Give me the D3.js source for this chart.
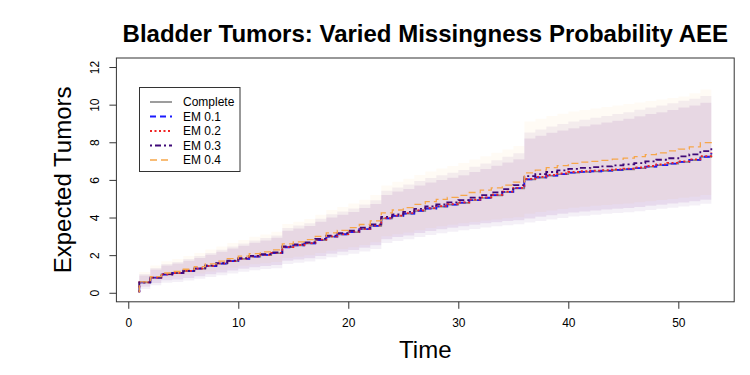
<!DOCTYPE html>
<html>
<head>
<meta charset="utf-8">
<script src="https://cdn.jsdelivr.net/npm/d3@7"></script>
<style>
  body { margin: 0; background: #fff; }
  svg { font-family: "Liberation Sans", Arial, Helvetica, sans-serif; }
</style>
</head>
<body>
<div id="chart"></div>
<script>
// ---- data ----
var times = [1,2,3,4,5,6,7,8,9,10,11,12,13,14,15,16,17,18,19,20,21,22,23,24,25,26,27,
             28,29,30,31,32,33,34,35,36,37,38,39,40,41,42,43,44,45,46,47,48,49,50,51,52,53];
var startLevel = 0.03;

var complete = [0.55,0.80,0.97,1.04,1.15,1.28,1.42,1.55,1.68,1.80,1.92,2.00,2.10,2.42,2.52,2.62,2.80,2.98,3.10,3.22,3.38,3.55,3.95,4.08,4.20,4.35,4.48,
                4.58,4.68,4.78,4.92,5.04,5.18,5.35,5.55,6.02,6.12,6.22,6.30,6.38,6.42,6.45,6.48,6.52,6.56,6.62,6.70,6.78,6.86,6.95,7.05,7.22,7.42];
var em01 = [0.55,0.80,0.97,1.05,1.15,1.28,1.42,1.55,1.68,1.80,1.92,2.01,2.11,2.42,2.52,2.63,2.80,2.98,3.11,3.23,3.38,3.56,3.95,4.09,4.21,4.36,4.48,
            4.59,4.69,4.79,4.93,5.05,5.19,5.36,5.56,6.03,6.13,6.23,6.31,6.39,6.43,6.46,6.49,6.53,6.57,6.63,6.71,6.79,6.87,6.96,7.06,7.23,7.43];
var em02 = [0.55,0.81,0.98,1.05,1.16,1.29,1.43,1.56,1.69,1.81,1.93,2.02,2.12,2.43,2.54,2.64,2.82,3.00,3.12,3.25,3.40,3.58,3.97,4.10,4.23,4.38,4.50,
            4.61,4.71,4.81,4.95,5.07,5.21,5.38,5.58,6.05,6.16,6.26,6.34,6.42,6.46,6.49,6.52,6.56,6.60,6.66,6.74,6.82,6.90,6.99,7.09,7.26,7.46];
var em03 = [0.55,0.81,0.99,1.06,1.17,1.30,1.45,1.58,1.71,1.84,1.96,2.05,2.15,2.46,2.57,2.68,2.86,3.04,3.17,3.30,3.46,3.64,4.03,4.17,4.30,4.46,4.59,
            4.70,4.81,4.92,5.06,5.19,5.34,5.51,5.72,6.20,6.31,6.42,6.51,6.59,6.64,6.68,6.72,6.77,6.82,6.89,6.98,7.07,7.15,7.25,7.36,7.53,7.72];
var em04 = [0.58,0.86,1.05,1.13,1.25,1.39,1.54,1.68,1.82,1.95,2.08,2.17,2.28,2.60,2.71,2.82,3.00,3.18,3.32,3.46,3.63,3.82,4.25,4.40,4.53,4.70,4.84,
            4.96,5.07,5.18,5.33,5.46,5.58,5.72,5.88,6.37,6.52,6.65,6.76,6.88,6.94,6.99,7.04,7.10,7.16,7.24,7.34,7.44,7.54,7.64,7.76,7.98,8.22];

// pointwise bands (EM 0.1 and EM 0.2 share one)
var lowerA = [0.32,0.52,0.66,0.70,0.78,0.88,0.98,1.08,1.18,1.28,1.36,1.42,1.48,1.70,1.77,1.84,1.96,2.08,2.18,2.27,2.39,2.53,2.85,2.96,3.05,3.18,3.29,
              3.38,3.46,3.54,3.61,3.69,3.75,3.81,3.86,3.95,4.04,4.12,4.20,4.27,4.32,4.37,4.42,4.46,4.50,4.56,4.62,4.68,4.74,4.80,4.86,4.95,5.04];
var upperA = [0.92,1.24,1.45,1.55,1.70,1.85,2.02,2.18,2.35,2.50,2.66,2.78,2.92,3.30,3.42,3.55,3.78,4.00,4.15,4.30,4.50,4.72,5.20,5.38,5.52,5.70,5.86,
              6.00,6.12,6.25,6.42,6.58,6.75,6.92,7.10,8.20,8.35,8.50,8.62,8.75,8.85,8.95,9.05,9.15,9.25,9.38,9.50,9.60,9.72,9.85,9.95,10.10,10.25];
var lower03 = [0.20,0.40,0.53,0.57,0.65,0.74,0.84,0.93,1.03,1.12,1.20,1.26,1.31,1.53,1.60,1.66,1.78,1.89,1.99,2.08,2.19,2.33,2.64,2.75,2.84,2.96,3.07,
               3.16,3.24,3.32,3.39,3.47,3.53,3.59,3.64,3.73,3.82,3.90,3.98,4.05,4.10,4.15,4.20,4.24,4.28,4.34,4.40,4.46,4.52,4.58,4.64,4.73,4.82];
var upper03 = [1.00,1.32,1.53,1.64,1.79,1.95,2.12,2.29,2.46,2.62,2.78,2.91,3.05,3.44,3.57,3.70,3.94,4.17,4.32,4.48,4.69,4.92,5.42,5.60,5.75,5.94,6.10,
               6.25,6.38,6.52,6.70,6.87,7.05,7.23,7.42,8.52,8.68,8.84,8.97,9.10,9.20,9.30,9.40,9.50,9.60,9.73,9.85,9.96,10.08,10.21,10.31,10.46,10.62];
var lower04 = [0.47,0.67,0.81,0.85,0.93,1.03,1.13,1.23,1.33,1.43,1.51,1.57,1.63,1.85,1.92,1.99,2.11,2.23,2.33,2.42,2.54,2.68,3.00,3.11,3.20,3.33,3.44,
               3.53,3.61,3.69,3.76,3.84,3.90,3.96,4.01,4.20,4.29,4.37,4.45,4.52,4.57,4.62,4.67,4.71,4.75,4.81,4.87,4.93,4.99,5.05,5.11,5.20,5.29];
var upper04 = [1.10,1.45,1.68,1.80,1.95,2.12,2.30,2.46,2.64,2.80,2.98,3.10,3.25,3.65,3.78,3.92,4.15,4.40,4.56,4.74,4.95,5.20,5.70,5.90,6.06,6.26,6.44,
               6.60,6.74,6.90,7.08,7.26,7.44,7.62,7.80,9.10,9.25,9.40,9.52,9.64,9.72,9.80,9.88,9.96,10.04,10.12,10.20,10.28,10.36,10.44,10.60,10.80,11.05];

var xTicks = [0,10,20,30,40,50];
var yTicks = [0,2,4,6,8,10,12];
var legendLabels = ["Complete","EM 0.1","EM 0.2","EM 0.3","EM 0.4"];

// ---- look ----
var series = [
  { name: "Complete", vals: complete, color: "#858585", dash: null,        width: 1.6 },
  { name: "EM 0.1",   vals: em01,     color: "#1a1aff", dash: "6,4",       width: 1.8 },
  { name: "EM 0.2",   vals: em02,     color: "#f02424", dash: "2,2.5",     width: 1.8 },
  { name: "EM 0.3",   vals: em03,     color: "#3f0a78", dash: "2,3,6,3",   width: 1.8 },
  { name: "EM 0.4",   vals: em04,     color: "#f6a64a", dash: "7,4",       width: 1.3 }
];
var bands = [
  { lo: lowerA,  hi: upperA,  color: "#0000ff", op: 0.05 },
  { lo: lowerA,  hi: upperA,  color: "#ff0000", op: 0.04 },
  { lo: lower03, hi: upper03, color: "#551a8b", op: 0.065 },
  { lo: lower04, hi: upper04, color: "#ffa500", op: 0.04 }
];

var width = 750, height = 375;
var plot = { left: 116.4, right: 734.2, top: 58, bottom: 301.8 };

var svg = d3.select("#chart").append("svg")
  .attr("width", width)
  .attr("height", height);

// R style 4% padding
var x = d3.scaleLinear().domain([-1.08, 55.08]).range([plot.left, plot.right]);
var y = d3.scaleLinear().domain([-0.48, 12.48]).range([plot.bottom, plot.top]);

///////////////////// bands /////////////////////
function bandRows(b) {
  var rows = [{ t: times[0], lo: b.lo[0], hi: b.lo[0] }];
  times.forEach(function(t, i) { rows.push({ t: t, lo: b.lo[i], hi: b.hi[i] }); });
  return rows;
}
var area = d3.area()
  .curve(d3.curveStepAfter)
  .x(function(d) { return x(d.t); })
  .y0(function(d) { return y(d.lo); })
  .y1(function(d) { return y(d.hi); });

svg.append("g").selectAll("path")
  .data(bands)
  .enter().append("path")
    .attr("d", function(b) { return area(bandRows(b)); })
    .attr("fill", function(b) { return b.color; })
    .attr("fill-opacity", function(b) { return b.op; });

///////////////////// lines /////////////////////
var line = d3.line()
  .curve(d3.curveStepAfter)
  .x(function(d) { return x(d.t); })
  .y(function(d) { return y(d.v); });

svg.append("g").selectAll("path")
  .data(series)
  .enter().append("path")
    .attr("d", function(s) {
      var rows = [{ t: times[0], v: startLevel }];
      times.forEach(function(t, i) { rows.push({ t: t, v: s.vals[i] }); });
      return line(rows);
    })
    .attr("fill", "none")
    .attr("stroke", function(s) { return s.color; })
    .attr("stroke-width", function(s) { return s.width; })
    .attr("stroke-dasharray", function(s) { return s.dash; });

///////////////////// axes /////////////////////
var xAxis = svg.append("g")
  .attr("transform", "translate(0," + plot.bottom + ")")
  .call(d3.axisBottom(x).tickValues(xTicks).tickSize(7).tickPadding(10));
xAxis.select(".domain").remove();
xAxis.selectAll("text").attr("font-size", 12).attr("fill", "#000");
xAxis.selectAll("line").attr("stroke", "#333");

var yAxis = svg.append("g")
  .attr("transform", "translate(" + plot.left + ",0)")
  .call(d3.axisLeft(y).tickValues(yTicks).tickSize(7));
yAxis.select(".domain").remove();
yAxis.selectAll("line").attr("stroke", "#333");
yAxis.selectAll("text")
  .attr("x", null).attr("dy", null)
  .attr("font-size", 12).attr("fill", "#000")
  .attr("text-anchor", "middle")
  .attr("transform", "translate(-17,0) rotate(-90)");

// plot frame
svg.append("rect")
  .attr("x", plot.left).attr("y", plot.top)
  .attr("width", plot.right - plot.left)
  .attr("height", plot.bottom - plot.top)
  .attr("fill", "none")
  .attr("stroke", "#333");

///////////////////// texts /////////////////////
var midX = (plot.left + plot.right) / 2;
svg.append("text")
  .attr("x", midX).attr("y", 42)
  .attr("text-anchor", "middle")
  .attr("font-size", 24).attr("font-weight", "bold")
  .text("Bladder Tumors: Varied Missingness Probability AEE");

svg.append("text")
  .attr("x", midX).attr("y", 358)
  .attr("text-anchor", "middle")
  .attr("font-size", 24)
  .text("Time");

svg.append("text")
  .attr("transform", "translate(71," + ((plot.top + plot.bottom) / 2) + ") rotate(-90)")
  .attr("text-anchor", "middle")
  .attr("font-size", 24)
  .text("Expected Tumors");

///////////////////// legend /////////////////////
var legend = svg.append("g");
legend.append("rect")
  .attr("x", 139.5).attr("y", 87.5)
  .attr("width", 100.5).attr("height", 84)
  .attr("fill", "#fff")
  .attr("stroke", "#333");

var rows = legend.selectAll("g.row")
  .data(series)
  .enter().append("g")
    .attr("class", "row")
    .attr("transform", function(d, i) { return "translate(0," + (102 + i * 14.5) + ")"; });
rows.append("line")
  .attr("x1", 150).attr("x2", 172)
  .attr("stroke", function(s) { return s.color; })
  .attr("stroke-width", function(s) { return s.width; })
  .attr("stroke-dasharray", function(s) { return s.dash; });
rows.append("text")
  .attr("x", 183).attr("dy", "0.35em")
  .attr("font-size", 12)
  .text(function(d, i) { return legendLabels[i]; });
</script>
</body>
</html>
